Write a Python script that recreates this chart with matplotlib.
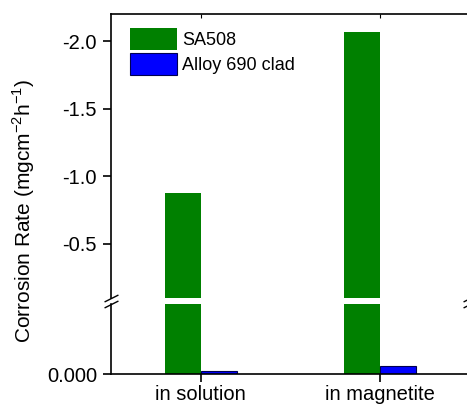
import numpy as np
import matplotlib
matplotlib.use('Agg')
import matplotlib.pyplot as plt
from matplotlib.ticker import FixedLocator, FormatStrFormatter

plt.rcParams['font.family'] = ['Liberation Sans', 'DejaVu Sans']
plt.rcParams['axes.unicode_minus'] = False

# data
categories = ['in solution', 'in magnetite']
sa508 = [-0.88, -2.065]
alloy690 = [-0.0009, -0.0023]

green = '#008000'
blue = '#0000ff'

fig = plt.figure(figsize=(4.67, 4.05), dpi=100)
W, H = 467, 405
left, right = 111 / W, 470 / W
ax_top = fig.add_axes([left, (H - 298) / H, right - left, (298 - 14) / H])
ax_bot = fig.add_axes([left, (H - 374) / H, right - left, (374 - 304) / H])

x = np.arange(len(categories))
w = 0.2
for ax in (ax_top, ax_bot):
    ax.bar(x - w / 2, sa508, width=w, color=green, edgecolor='none', label='SA508')
    ax.bar(x + w / 2, alloy690, width=w, color=blue, edgecolor='#000050', linewidth=0.8,
           label='Alloy 690 clad')
    ax.set_xlim(-0.5, 1.5)
    for s in ax.spines.values():
        s.set_linewidth(1.2)

ax_top.set_ylim(-0.1, -2.2)
ax_bot.set_ylim(0, -0.02)

ax_top.spines['bottom'].set_visible(False)
ax_bot.spines['top'].set_visible(False)

ax_top.yaxis.set_major_locator(FixedLocator([-2.0, -1.5, -1.0, -0.5]))
ax_top.yaxis.set_major_formatter(FormatStrFormatter('%.1f'))
ax_bot.yaxis.set_major_locator(FixedLocator([0.0]))
ax_bot.yaxis.set_major_formatter(FormatStrFormatter('%.3f'))

ax_top.set_xticks(x)
ax_top.tick_params(axis='x', bottom=False, labelbottom=False, top=True, direction='in', length=3)
ax_bot.set_xticks(x)
ax_bot.set_xticklabels(categories)
ax_bot.tick_params(axis='x', top=False, direction='out', length=6, width=1.2, labelsize=14.5, pad=2)
for ax in (ax_top, ax_bot):
    ax.tick_params(axis='y', right=False, direction='out', length=6, width=1.2, labelsize=14.5, pad=4)

# break marks
d = 0.5
kw = dict(marker=[(-1, -d), (1, d)], markersize=10, linestyle='none', color='k',
          mec='k', mew=1, clip_on=False)
ax_top.plot([0, 1], [0, 0], transform=ax_top.transAxes, **kw)
ax_bot.plot([0, 1], [1, 1], transform=ax_bot.transAxes, **kw)

ax_top.legend(loc='upper left', bbox_to_anchor=(0.014, 1.0), frameon=False, fontsize=13,
              handlelength=2.55, handleheight=1.5, handletextpad=0.3, labelspacing=0.12,
              borderpad=0.2, borderaxespad=0.6)

fig.text(0.05, 0.48, 'Corrosion Rate (mgcm$^{\\mathregular{-2}}$h$^{\\mathregular{-1}}$)',
         rotation=90, ha='center', va='center', fontsize=15)

fig.savefig('out.png', dpi=100)
